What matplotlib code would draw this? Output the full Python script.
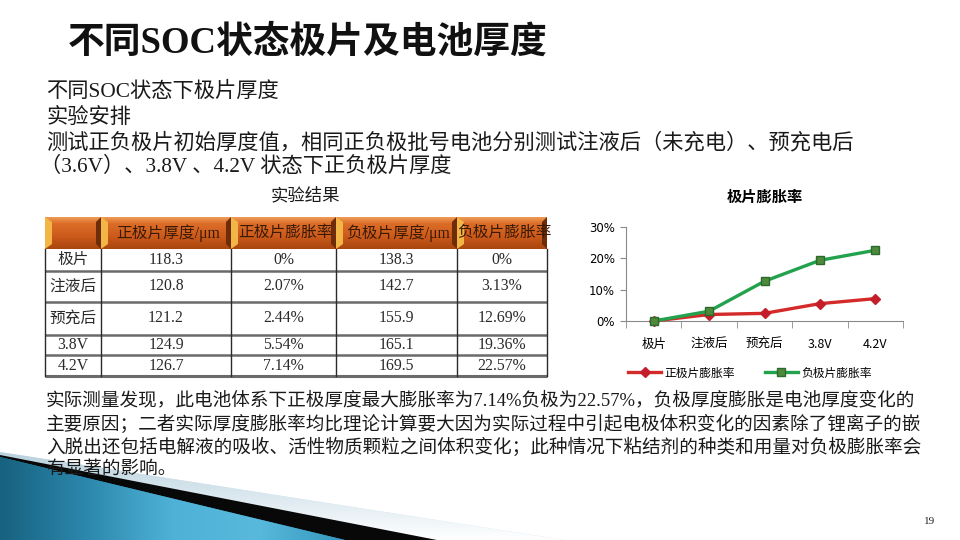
import matplotlib
matplotlib.use('Agg')
import matplotlib.pyplot as plt
import numpy as np
from matplotlib.patches import Polygon, Rectangle
from matplotlib.colors import LinearSegmentedColormap

plt.rcParams['font.family'] = ['Noto Sans CJK SC', 'DejaVu Sans']
SERIF = ['Liberation Serif', 'Noto Sans CJK SC']

# ---------------- data ----------------
stages = ['极片', '注液后', '预充后', '3.8V', '4.2V']
pos_thick = [118.3, 120.8, 121.2, 124.9, 126.7]
pos_rate = [0, 2.07, 2.44, 5.54, 7.14]
neg_thick = [138.3, 142.7, 155.9, 165.1, 169.5]
neg_rate = [0, 3.13, 12.69, 19.36, 22.57]
headers = ['正极片厚度/μm', '正极片膨胀率', '负极片厚度/μm', '负极片膨胀率']
series_names = ['正极片膨胀率', '负极片膨胀率']
y_ticks = [0, 10, 20, 30]

title = '不同SOC状态极片及电池厚度'
intro_lines = ['不同SOC状态下极片厚度',
               '实验安排',
               '测试正负极片初始厚度值，相同正负极批号电池分别测试注液后（未充电）、预充电后',
               '（3.6V）、3.8V 、4.2V 状态下正负极片厚度']
result_lines = ['实际测量发现，此电池体系下正极厚度最大膨胀率为7.14%负极为22.57%，负极厚度膨胀是电池厚度变化的',
                '主要原因；二者实际厚度膨胀率均比理论计算要大因为实际过程中引起电极体积变化的因素除了锂离子的嵌',
                '入脱出还包括电解液的吸收、活性物质颗粒之间体积变化；此种情况下粘结剂的种类和用量对负极膨胀率会',
                '有显著的影响。']

W, H = 960, 540
fig = plt.figure(figsize=(9.6, 5.4), dpi=100)
bg = fig.add_axes([0, 0, 1, 1])
bg.set_xlim(0, W)
bg.set_ylim(H, 0)
bg.axis('off')

# ---------------- decoration bottom-left ----------------
pale = Polygon([(0, 452), (565, 540), (0, 540)], closed=True, fc='#d3e4ed', ec='none', zorder=1)
bg.add_patch(pale)
grad_p = np.linspace(0, 1, 100).reshape(-1, 1)
cm_p = LinearSegmentedColormap.from_list('p', ['#ffffff', '#dbe8ef', '#b9d2de'])
im = bg.imshow(grad_p, cmap=cm_p, extent=(0, 600, 452, 540), aspect='auto', zorder=1.1, origin='upper')
im.set_clip_path(pale)
black = Polygon([(0, 455), (437, 540), (0, 540)], closed=True, fc='#080808', ec='none', zorder=2)
bg.add_patch(black)
blue = Polygon([(0, 457), (345, 540), (0, 540)], closed=True, fc='#2a8fb5', ec='none', zorder=3)
bg.add_patch(blue)
grad_b = np.linspace(0, 1, 200).reshape(1, -1)
cm_b = LinearSegmentedColormap.from_list('b', ['#17627f', '#2c88ad', '#4fb1d6', '#58b9dc', '#3597bd'])
im2 = bg.imshow(grad_b, cmap=cm_b, extent=(0, 345, 540, 455), aspect='auto', zorder=3.1)
im2.set_clip_path(blue)

# ---------------- title & text ----------------
bg.text(68, 43, title, fontsize=26.5, fontweight='bold', family=SERIF, va='center', ha='left',
        color='#111111', zorder=5)
for y, s in zip([92, 118, 143, 167], intro_lines):
    bg.text(46 if not s.startswith('（') else 40, y, s, fontsize=15.3, family=SERIF, va='center', ha='left',
            color='#1a1a1a', zorder=5)
bg.text(305, 196, '实验结果', fontsize=12.5, family=SERIF, va='center', ha='center', color='#1a1a1a', zorder=5)
for y, s in zip([400, 424, 447, 469], result_lines):
    bg.text(46, y, s, fontsize=13.4, family=SERIF, va='center', ha='left', color='#1a1a1a', zorder=6)
bg.text(930, 521, '19', fontsize=8, family=SERIF, va='center', ha='center', color='#222222', zorder=5)

# ---------------- table ----------------
col_edges = [45, 101, 231, 336, 457, 547]
row_edges = [217, 249, 271, 302, 335, 355, 376]
cm_h = LinearSegmentedColormap.from_list('h', [(0, '#ee9a55'), (0.2, '#dc6d28'), (0.6, '#cc5a1b'), (1, '#a9460f')])
grad_h = np.linspace(0, 1, 50).reshape(-1, 1)
for i in range(len(col_edges) - 1):
    x0, x1 = col_edges[i], col_edges[i + 1]
    bg.imshow(grad_h, cmap=cm_h, extent=(x0, x1, row_edges[1], row_edges[0]), aspect='auto', zorder=4)
    bg.add_patch(Polygon([(x0, 217), (x0 + 7, 222), (x0 + 7, 244), (x0, 249)], closed=True,
                         fc='#f3b545', ec='none', zorder=4.2))
    bg.add_patch(Polygon([(x1, 217), (x1 - 5, 222), (x1 - 5, 244), (x1, 249)], closed=True,
                         fc='#6e2c08', ec='none', zorder=4.2))
bg.set_xlim(0, W)
bg.set_ylim(H, 0)
hy = (row_edges[0] + row_edges[1]) / 2
for i, h in enumerate(headers):
    xa, xb = col_edges[i + 1], col_edges[i + 2]
    t = bg.text((xa + xb) / 2 + 2, hy, h, fontsize=11.3, family=SERIF, va='center', ha='center',
                color='#3a1a05', zorder=5)
    clip = Rectangle((xa + 3, row_edges[0]), xb - xa - 6, row_edges[1] - row_edges[0], transform=bg.transData)
    t.set_clip_path(clip)

for y in row_edges[2:]:
    bg.plot([col_edges[0], col_edges[-1]], [y, y], color='#6a6a6a', lw=1.8 if y != row_edges[-1] else 2.2,
            zorder=4.5, solid_capstyle='butt')
for x in col_edges:
    bg.plot([x, x], [row_edges[1], row_edges[-1]], color='#2a2a2a', lw=1.0, zorder=4.6)

for r in range(len(stages)):
    cy = (row_edges[r + 1] + row_edges[r + 2]) / 2
    vals = [stages[r], f'{pos_thick[r]:.1f}', f'{pos_rate[r]:g}%', f'{neg_thick[r]:.1f}', f'{neg_rate[r]:g}%']
    for c, v in enumerate(vals):
        cx = (col_edges[c] + col_edges[c + 1]) / 2
        bg.text(cx, cy, v, fontsize=11.3, family=SERIF, va='center', ha='center', color='#2a2a2a', zorder=5)

# ---------------- line chart ----------------
ax = fig.add_axes([626 / W, (H - 321) / H, (903 - 626) / W, (321 - 227) / H])
x = np.arange(len(stages))
ax.plot(x, pos_rate, color='#d42a2a', lw=2.4, marker='D', ms=5, mfc='#c41e2a', mec='#c41e2a',
        clip_on=False, zorder=4, label=series_names[0])
ax.plot(x, neg_rate, color='#22a24c', lw=2.4, marker='s', ms=6, mfc='#4d8a3c', mec='#2c6a2c',
        clip_on=False, zorder=5, label=series_names[1])
ax.set_xlim(-0.5, len(stages) - 0.5)
ax.set_ylim(0, 30)
ax.set_yticks(y_ticks)
ax.set_yticklabels([f'{v}%' for v in y_ticks], fontsize=8.5, family='DejaVu Sans')
ax.set_xticks(x)
ax.set_xticklabels(stages, fontsize=9)
ax.set_xticks(np.arange(-0.5, len(stages)), minor=True)
ax.tick_params(axis='x', which='major', length=0, pad=12)
ax.tick_params(axis='x', which='minor', length=5, color='#8a8a8a', direction='out')
ax.tick_params(axis='y', length=4, color='#8a8a8a', pad=4)
for s in ['top', 'right']:
    ax.spines[s].set_visible(False)
for s in ['left', 'bottom']:
    ax.spines[s].set_color('#8a8a8a')
ax.patch.set_alpha(0)
ax.set_title('极片膨胀率', fontsize=11, fontweight='bold', pad=0, y=(321 - 196) / 94 - 0.06)
ax.legend(loc='center', bbox_to_anchor=((750 - 626) / 277, (321 - 373) / 94), ncol=2, frameon=False,
          fontsize=8.5, handlelength=2.8, columnspacing=2.5, handletextpad=0.3)

fig.savefig('out.png', dpi=100)
